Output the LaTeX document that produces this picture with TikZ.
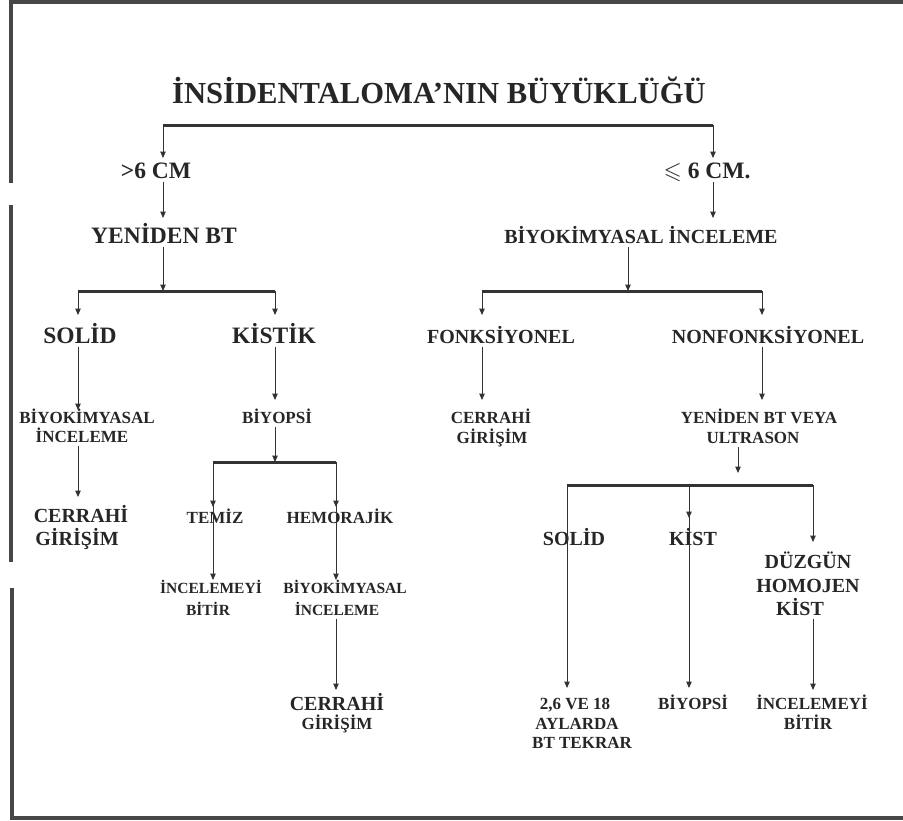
\documentclass[tikz,border=0pt]{standalone}
\usepackage{fontspec}
\usepackage{amssymb}
\setmainfont{Liberation Serif}
\usetikzlibrary{arrows.meta,calc}
\begin{document}
\begin{tikzpicture}[x=1pt,y=-1pt,
  lbl/.style={inner sep=1pt, anchor=base, text depth=0.25em, text=black!85},
  tTitle/.style={lbl, text height=1em, font=\fontsize{30.6}{31}\selectfont\bfseries},
  tBig/.style={lbl, text height=1em, font=\fontsize{23.5}{24}\selectfont\bfseries},
  tMid/.style={lbl, text height=1.1em, font=\fontsize{20}{21}\selectfont\bfseries},
  tSmall/.style={lbl, text height=1.3em, font=\fontsize{17}{18}\selectfont\bfseries},
  tTiny/.style={lbl, text height=1.3em, font=\fontsize{15.5}{16}\selectfont\bfseries},
  conn/.style={draw=black!80, line width=1pt},
  arr/.style={conn, -{Triangle[length=6.5pt,width=5.5pt]}},
  bar/.style={draw=black!80, line width=3pt},
  border/.style={draw=black!72, line width=4pt},
]
\useasboundingbox (0,0) rectangle (903,820);
% frame of the scanned page
\draw[border] (9,1.5) -- (903,1.5);
\draw[border] (10.5,0) -- (10.5,183);
\draw[border] (10.5,205) -- (10.5,562);
\draw[border] (12,588) -- (12,818);
\draw[border] (10,817.5) -- (903,817.5);

% texts
\node[tTitle] (title) at (439,103.5) {İNSİDENTALOMA’NIN BÜYÜKLÜĞÜ};
\node[tBig] (gt6) at (156,178) {>6 CM};
\node[tBig] (le6) at (707,178) {$\leqslant$ 6 CM.};
\node[tBig] (yen) at (164,243) {YENİDEN BT};
\node[tMid] (biyo) at (641,243) {BİYOKİMYASAL İNCELEME};
\node[tBig] (solid) at (80,343) {SOLİD};
\node[tBig] (kistik) at (274,343) {KİSTİK};
\node[tMid] (fonk) at (501,343) {FONKSİYONEL};
\node[tMid] (nonf) at (768,343) {NONFONKSİYONEL};
\node[tSmall] (bk1a) at (87,423) {BİYOKİMYASAL};
\node[tSmall] (bk1b) at (82,442) {İNCELEME};
\node[tMid] (cer1a) at (81,522) {CERRAHİ};
\node[tMid] (cer1b) at (77,545) {GİRİŞİM};
\node[tSmall] (bps1) at (277,423) {BİYOPSİ};
\node[tSmall] (temiz) at (215,523) {TEMİZ};
\node[tSmall] (hem) at (340,523) {HEMORAJİK};
\node[tTiny] (inc1a) at (211,593) {İNCELEMEYİ};
\node[tTiny] (inc1b) at (208,615) {BİTİR};
\node[tTiny] (bk2a) at (345,593) {BİYOKİMYASAL};
\node[tTiny] (bk2b) at (337,615) {İNCELEME};
\node[tMid] (cer2a) at (337,710) {CERRAHİ};
\node[tSmall] (cer2b) at (337,729) {GİRİŞİM};
\node[tSmall] (cer3a) at (491,423) {CERRAHİ};
\node[tSmall] (cer3b) at (492,443) {GİRİŞİM};
\node[tSmall] (yen2a) at (759,423) {YENİDEN BT VEYA};
\node[tSmall] (yen2b) at (753,443) {ULTRASON};
\node[tMid] (solid2) at (574,545) {SOLİD};
\node[tMid] (kist) at (693,545) {KİST};
\node[tMid] (duz) at (808,568) {DÜZGÜN};
\node[tMid] (hom) at (808,592) {HOMOJEN};
\node[tMid] (kist2) at (800,615) {KİST};
\node[tSmall] (t26) at (575,709) {2,6 VE 18};
\node[tSmall] (ayl) at (577,729) {AYLARDA};
\node[tSmall] (btt) at (582,748) {BT TEKRAR};
\node[tSmall] (bps2) at (693,709) {BİYOPSİ};
\node[tSmall] (inc2a) at (812,709) {İNCELEMEYİ};
\node[tSmall] (inc2b) at (808,729) {BİTİR};

% level 1
\coordinate (b1l) at (163,125);
\coordinate (b1r) at (713,125);
\draw[bar] (b1l) -- (b1r);
\draw[arr] (b1l) -- ($(b1l |- gt6.base)+(0,-20)$);
\draw[arr] (b1r) -- ($(b1r |- le6.base)+(0,-20)$);
\draw[arr] (b1l |- gt6.south) -- ($(b1l |- yen.base)+(0,-25)$);
\draw[arr] (b1r |- le6.south) -- ($(b1r |- biyo.base)+(0,-25)$);

% left branch
\coordinate (b2) at (163,291);
\coordinate (b2l) at (78,291);
\coordinate (b2r) at (275,291);
\draw[arr] (b2 |- yen.south) -- (b2);
\draw[bar] (b2l) -- (b2r);
\draw[arr] (b2l) -- ($(b2l |- solid.base)+(0,-28)$);
\draw[arr] (b2r) -- ($(b2r |- kistik.base)+(0,-28)$);
\draw[arr] (b2l |- solid.south) -- ($(b2l |- bk1a.base)+(0,-13)$);
\draw[arr] (b2l |- bk1b.south) -- ($(b2l |- cer1a.base)+(0,-25)$);
\draw[arr] (b2r |- kistik.south) -- ($(b2r |- bps1.base)+(0,-23)$);

\coordinate (b4) at (275,462);
\coordinate (b4l) at (213,462);
\coordinate (b4r) at (336,462);
\draw[arr] (b4 |- bps1.south) -- (b4);
\draw[bar] (b4l) -- (b4r);
\draw[arr] (b4l) -- ($(b4l |- temiz.base)+(0,-16)$);
\draw[arr] (b4l) -- ($(b4l |- inc1a.base)+(0,-13)$);
\draw[arr] (b4r) -- ($(b4r |- hem.base)+(0,-16)$);
\draw[arr] (b4r) -- ($(b4r |- bk2a.base)+(0,-13)$);
\draw[arr] (b4r |- bk2b.south) -- ($(b4r |- cer2a.base)+(0,-20)$);

% right branch
\coordinate (b3) at (628,291);
\coordinate (b3l) at (482,291);
\coordinate (b3r) at (762,291);
\draw[arr] (b3 |- biyo.south) -- (b3);
\draw[bar] (b3l) -- (b3r);
\draw[arr] (b3l) -- ($(b3l |- fonk.base)+(0,-28)$);
\draw[arr] (b3r) -- ($(b3r |- nonf.base)+(0,-28)$);
\draw[arr] (b3l |- fonk.south) -- ($(b3l |- cer3a.base)+(0,-23)$);
\draw[arr] (b3r |- nonf.south) -- ($(b3r |- yen2a.base)+(0,-23)$);

\coordinate (b5) at (738,485);
\coordinate (b5l) at (567,485);
\coordinate (b5m) at (689,485);
\coordinate (b5r) at (813,485);
\draw[arr] (b5 |- yen2b.south) -- ($(b5)+(0,-12)$);
\draw[bar] (b5l) -- (b5r);
\draw[arr] (b5l) -- ($(b5l |- t26.base)+(0,-21)$);
\draw[arr] (b5m) -- ($(b5m |- kist.base)+(0,-27)$);
\draw[arr] (b5m) -- ($(b5m |- bps2.base)+(0,-21)$);
\draw[arr] (b5r) -- ($(b5r |- duz.base)+(0,-26)$);
\draw[arr] (b5r |- kist2.south) -- ($(b5r |- inc2a.base)+(0,-19)$);
\end{tikzpicture}
\end{document}
